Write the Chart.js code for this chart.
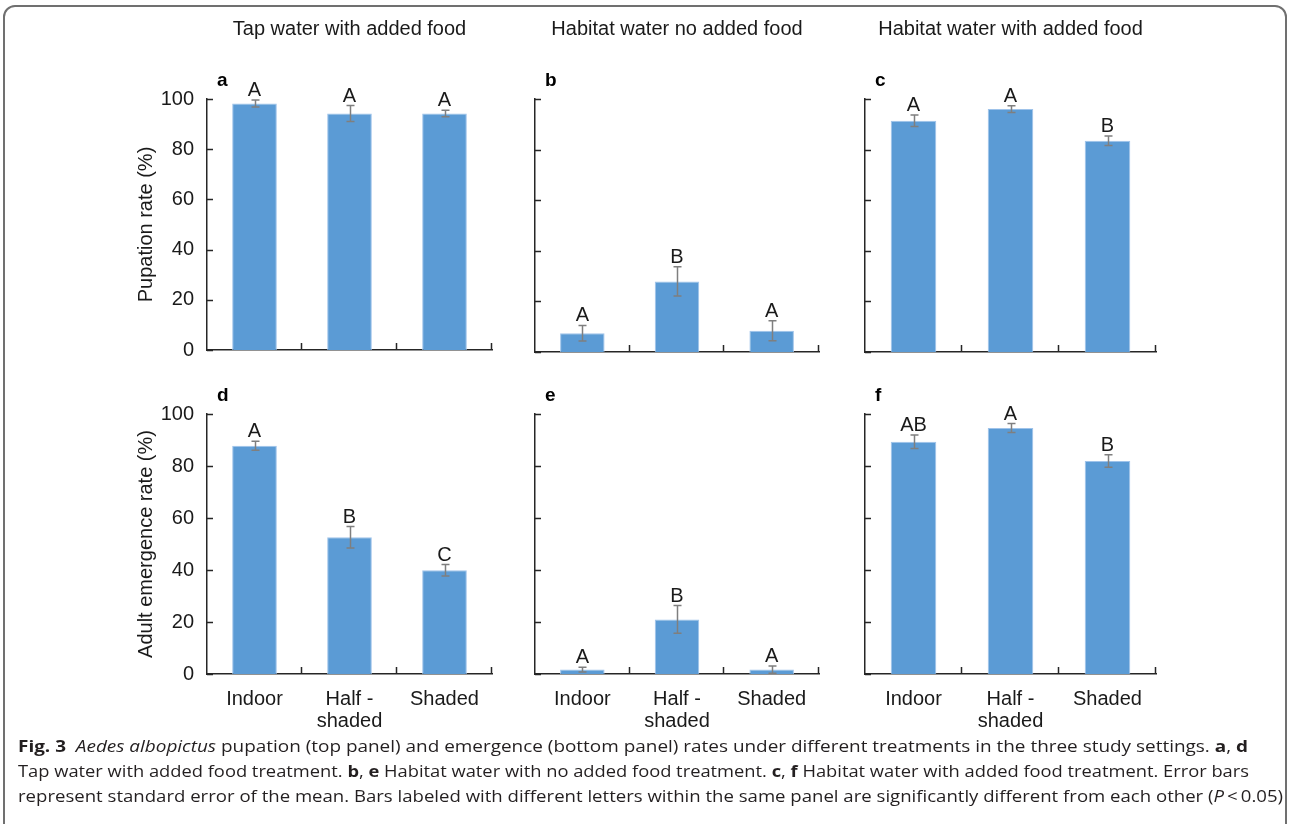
<!DOCTYPE html>
<html>
<head>
<meta charset="utf-8">
<title>Aedes albopictus pupation and emergence rates</title>
<script src="https://cdn.jsdelivr.net/npm/chart.js@4.4.1/dist/chart.umd.min.js"></script>
<style>
  html, body { margin: 0; padding: 0; background: #fff; }
  body { width: 1290px; height: 824px; position: relative; overflow: hidden; }
  .frame {
    position: absolute; left: 3px; top: 5px; width: 1284px; height: 850px;
    border: 2px solid #707070; border-radius: 12px; box-sizing: border-box;
  }
  canvas { position: absolute; }
  .cap {
    position: absolute; left: 18px; white-space: nowrap;
    font-family: "Open Sans", "Noto Sans", sans-serif; font-size: 16px;
    color: #231f20; line-height: 20px; transform-origin: 0 50%;
  }
  .cap b { font-weight: 700; }
</style>
</head>
<body>
<div class="frame"></div>

<canvas id="pa" width="400" height="375" style="left:100px;top:0px"></canvas>
<canvas id="pb" width="310" height="375" style="left:520px;top:0px"></canvas>
<canvas id="pc" width="320" height="375" style="left:850px;top:0px"></canvas>
<canvas id="pd" width="400" height="365" style="left:100px;top:375px"></canvas>
<canvas id="pe" width="310" height="365" style="left:520px;top:375px"></canvas>
<canvas id="pf" width="320" height="365" style="left:850px;top:375px"></canvas>

<div class="cap" id="cap1" style="top:736px"><b>Fig. 3</b>&nbsp;&nbsp;<i>Aedes albopictus</i> pupation (top panel) and emergence (bottom panel) rates under different treatments in the three study settings. <b>a</b>, <b>d</b></div>
<div class="cap" id="cap2" style="top:761px">Tap water with added food treatment. <b>b</b>, <b>e</b> Habitat water with no added food treatment. <b>c</b>, <b>f</b> Habitat water with added food treatment. Error bars</div>
<div class="cap" id="cap3" style="top:786px">represent standard error of the mean. Bars labeled with different letters within the same panel are significantly different from each other (<i>P</i>&thinsp;&lt;&thinsp;0.05)</div>

<script>
// Treatment settings (x categories)
const settings = ['Indoor', ['Half -', 'shaded'], 'Shaded'];
const yTicks = [0, 20, 40, 60, 80, 100];

// Column headings
const columnTitles = ['Tap water with added food', 'Habitat water no added food', 'Habitat water with added food'];

// Pupation rate (%) — means and standard errors
const pupTapFood      = [98.2, 94.2, 94.2];
const pupTapFoodSE    = [1.4, 3.2, 1.3];
const pupHabNoFood    = [7.4, 27.9, 8.4];
const pupHabNoFoodSE  = [3.1, 5.8, 4.0];
const pupHabFood      = [91.4, 96.0, 83.5];
const pupHabFoodSE    = [2.3, 1.3, 1.9];

// Adult emergence rate (%) — means and standard errors
const emTapFood       = [87.8, 52.6, 39.9];
const emTapFoodSE     = [1.7, 4.1, 2.2];
const emHabNoFood     = [1.7, 21.0, 1.7];
const emHabNoFoodSE   = [0.9, 5.3, 1.4];
const emHabFood       = [89.3, 94.6, 81.9];
const emHabFoodSE     = [2.6, 1.7, 2.4];

// Significance groupings
const grpA = ['A', 'A', 'A'];
const grpB = ['A', 'B', 'A'];
const grpC = ['A', 'A', 'B'];
const grpD = ['A', 'B', 'C'];
const grpE = ['A', 'B', 'A'];
const grpF = ['AB', 'A', 'B'];

const FONT = '"Liberation Sans", Arial, Helvetica, sans-serif';
const INK = '#1a1a1a';
const AXIS = '#262626';
const BAR = '#5b9bd5';
const ERR = '#7f7f7f';

// Draws inward tick marks, error bars, group letters and the panel letter
const panelDecor = {
  id: 'panelDecor',
  afterDatasetsDraw(chart, args, o) {
    const ctx = chart.ctx;
    const xs = chart.scales.x, ys = chart.scales.y;
    const area = chart.chartArea;
    ctx.save();

    // inward ticks
    ctx.strokeStyle = AXIS;
    ctx.lineWidth = 1.5;
    ctx.beginPath();
    ys.ticks.forEach(t => {
      const y = Math.round(ys.getPixelForValue(t.value)) + 0.5;
      ctx.moveTo(area.left, y);
      ctx.lineTo(area.left + 6, y);
    });
    const n = xs.ticks.length;
    for (let i = 1; i <= n; i++) {
      const x = Math.round(xs.left + i * xs.width / n) - 0.5;
      ctx.moveTo(x, area.bottom);
      ctx.lineTo(x, area.bottom - 7);
    }
    ctx.stroke();

    // error bars and letters
    const meta = chart.getDatasetMeta(0);
    const vals = chart.data.datasets[0].data;
    ctx.font = '20px ' + FONT;
    ctx.textAlign = 'center';
    ctx.textBaseline = 'alphabetic';
    meta.data.forEach((bar, i) => {
      const v = vals[i], se = o.se[i];
      const yTop = ys.getPixelForValue(v + se);
      const yBot = ys.getPixelForValue(Math.max(v - se, 0));
      const x = Math.round(bar.x) + 0.5;
      ctx.strokeStyle = ERR;
      ctx.lineWidth = 1.5;
      ctx.beginPath();
      ctx.moveTo(x, yTop); ctx.lineTo(x, yBot);
      ctx.moveTo(x - 4, yTop); ctx.lineTo(x + 4, yTop);
      ctx.moveTo(x - 4, yBot); ctx.lineTo(x + 4, yBot);
      ctx.stroke();
      ctx.fillStyle = INK;
      ctx.fillText(o.groups[i], bar.x, yTop - 4);
    });

    // panel letter
    ctx.font = 'bold 19px ' + FONT;
    ctx.textAlign = 'left';
    ctx.fillStyle = '#000';
    ctx.fillText(o.letter, area.left + 10, area.top - 13);
    ctx.restore();
  }
};

function panel(id, cfg) {
  const top = cfg.row === 0;
  const first = cfg.col === 0;
  const yWidth = first ? 107 : 15;
  const padRight = [8, 11, 14][cfg.col];
  const xHeight = top ? 23 : 66;

  return new Chart(document.getElementById(id), {
    type: 'bar',
    data: {
      labels: settings,
      datasets: [{
        data: cfg.values,
        backgroundColor: BAR,
        borderColor: '#9fc3ea',
        borderWidth: 1,
        barPercentage: 0.47,
        categoryPercentage: 1.0
      }]
    },
    options: {
      responsive: false,
      animation: false,
      devicePixelRatio: 1,
      events: [],
      layout: { padding: { top: top ? 0 : 39, right: padRight, left: 0, bottom: 0 } },
      plugins: {
        legend: { display: false },
        tooltip: { enabled: false },
        title: {
          display: top,
          text: columnTitles[cfg.col],
          fullSize: false,
          color: INK,
          font: { family: FONT, size: 20, weight: 'normal', lineHeight: 1.2 },
          padding: { top: 17, bottom: 58 }
        },
        panelDecor: { se: cfg.se, groups: cfg.groups, letter: cfg.letter }
      },
      scales: {
        x: {
          type: 'category',
          offset: true,
          grid: { display: false, drawTicks: false },
          border: { display: true, color: AXIS, width: 1.5 },
          ticks: {
            display: !top,
            color: INK,
            font: { family: FONT, size: 20, lineHeight: 1.1 },
            padding: 14,
            maxRotation: 0,
            autoSkip: false
          },
          afterFit(s) { s.height = xHeight; }
        },
        y: {
          min: 0,
          max: 100,
          afterBuildTicks(s) { s.ticks = yTicks.map(v => ({ value: v })); },
          grid: { display: false, drawTicks: false },
          border: { display: true, color: AXIS, width: 1.5 },
          ticks: {
            display: first,
            color: INK,
            font: { family: FONT, size: 20 },
            padding: 13
          },
          title: {
            display: first,
            text: cfg.row === 0 ? 'Pupation rate (%)' : 'Adult emergence rate (%)',
            color: INK,
            font: { family: FONT, size: 20, lineHeight: 1.2 },
            padding: { top: 34, bottom: 0 }
          },
          afterFit(s) { s.width = yWidth; }
        }
      }
    },
    plugins: [panelDecor]
  });
}

panel('pa', { row: 0, col: 0, values: pupTapFood,   se: pupTapFoodSE,   groups: grpA, letter: 'a' });
panel('pb', { row: 0, col: 1, values: pupHabNoFood, se: pupHabNoFoodSE, groups: grpB, letter: 'b' });
panel('pc', { row: 0, col: 2, values: pupHabFood,   se: pupHabFoodSE,   groups: grpC, letter: 'c' });
panel('pd', { row: 1, col: 0, values: emTapFood,    se: emTapFoodSE,    groups: grpD, letter: 'd' });
panel('pe', { row: 1, col: 1, values: emHabNoFood,  se: emHabNoFoodSE,  groups: grpE, letter: 'e' });
panel('pf', { row: 1, col: 2, values: emHabFood,    se: emHabFoodSE,    groups: grpF, letter: 'f' });

// Caption lines are set in a condensed face: squeeze each line to its measure
const captionWidths = { cap1: 1230, cap2: 1231, cap3: 1265 };
function fitCaption() {
  Object.keys(captionWidths).forEach(id => {
    const el = document.getElementById(id);
    el.style.transform = 'none';
    const w = el.getBoundingClientRect().width;
    el.style.transform = 'scaleX(' + (captionWidths[id] / w) + ')';
  });
}
fitCaption();
if (document.fonts && document.fonts.ready) document.fonts.ready.then(fitCaption);
</script>
</body>
</html>
